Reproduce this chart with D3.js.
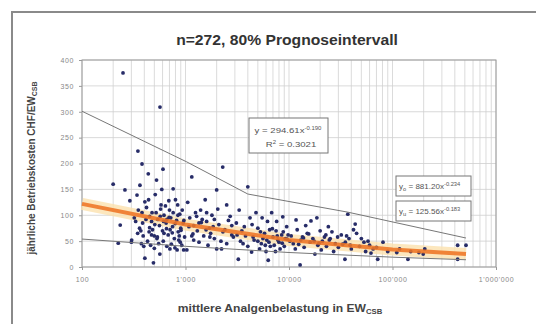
<!DOCTYPE html>
<html>
<head>
<meta charset="utf-8">
<script src="https://cdn.jsdelivr.net/npm/d3@7"></script>
<style>
  body { margin: 0; background: #fff; }
  svg { display: block; font-family: "Liberation Sans", Arial, sans-serif; }
</style>
</head>
<body>
<svg id="chart" width="536" height="324"></svg>
<script>
// data: plant size (EW) and yearly cost (CHF/EW)
var plantEW = [
  200,260,234,224,302,347,249,363,340,380,405,405,320,350,370,390,330,300,380,395,360,385,290,345,375,
  437,525,606,567,490,565,707,830,760,890,420,450,470,480,500,520,540,560,580,600,620,650,680,700,720,750,780,800,820,850,880,900,950,980,430,460,500,550,610,660,730,790,860,920,960,440,510,590,640,690,760,840,930,470,530,620,710,870,450,570,660,
  1030,1150,2000,2290,2500,2000,2230,1100,1200,1300,1400,1500,1600,1700,1800,1900,2100,2300,2600,2800,1050,1250,1350,1450,1550,1650,1750,1850,2200,2400,2700,2900,1150,1350,1600,2050,2500,1200,1900,2800,
  3240,4350,4000,6300,8700,3100,3500,3800,4200,4600,5000,5400,5800,6200,6600,7000,7500,8000,8500,9000,9500,3300,3600,4800,5200,5600,6000,6500,7200,7800,8200,9200,9800,4400,5500,6800,7600,4000,5000,6400,3400,7400,8800,5900,
  12800,11700,16300,18600,22700,29500,37000,43600,53000,81000,34700,72000,17800,10500,11000,12000,13000,14000,15000,16000,17000,19000,20000,21000,23000,25000,26000,28000,30000,32000,35000,38000,40000,45000,48000,55000,60000,65000,70000,90000,14500,24000,11500,13500,20500,27000,42000,50000,58000,62000,
  117000,205000,198000,141000,426000,426000,513000,150000,180000,110000,
  415,445,475,505,535,575,615,655,695,745,795,845,905,965,1080,1180,1280,1420,1580,1720,
  3150,3700,4500,5300,6100,6900,7700,8600,9600,10200,12400,13800,15500,17500,19500,22000,24500,33000,36000,39000
];
var plantCost = [
  160,149,81,46,52,224,375,158,139,199,126,17,95,110,70,60,88,48,105,40,75,85,128,65,45,
  180,168,189,309,8,25,35,33,151,48,115,98,88,72,60,105,92,80,120,70,100,85,62,110,95,78,55,130,90,68,102,75,85,58,50,42,36,45,50,40,44,37,52,42,33,130,140,150,118,128,105,120,110,62,55,65,72,60,76,98,92,
  33,174,149,193,120,35,35,95,80,70,110,60,88,75,100,55,82,68,90,62,125,105,48,92,130,42,65,78,50,72,98,58,60,85,105,112,45,52,92,80,
  15,29,155,13,97,85,70,60,95,52,75,45,65,88,40,58,70,48,62,40,78,110,45,105,35,55,30,72,42,52,35,55,62,82,95,105,88,40,50,48,50,30,68,42,
  4,91,89,95,62,58,102,83,48,48,15,15,25,60,45,72,52,38,65,48,55,42,70,50,40,55,68,45,38,62,48,55,35,65,40,30,42,35,38,30,80,78,35,58,33,30,72,55,50,27,
  35,35,25,15,15,42,42,30,28,28,
  92,68,105,82,58,112,88,74,96,66,84,100,71,90,78,64,98,86,72,58,
  62,78,58,68,52,74,60,46,54,50,44,56,64,50,46,58,52,44,60,42
];

// prognosis bounds and trend line
var upperEW = [100, 1030, 4000, 37000, 513000];
var upperCost = [301, 203, 141, 106, 56];
var lowerEW = [100, 1000, 10000, 100000, 513000];
var lowerCost = [54, 40, 28, 19, 14];
var trendEW = [100, 1000, 10000, 100000, 513000];
var trendCost = [122, 82, 52, 34, 25];

var xTicks = [100, 1000, 10000, 100000, 1000000];
var xTickLabels = ["100", "1'000", "10'000", "100'000", "1'000'000"];
var yTicks = [0, 50, 100, 150, 200, 250, 300, 350, 400];

var svg = d3.select("#chart");

// outer frame
svg.append("rect")
  .attr("x", 12).attr("y", 12)
  .attr("width", 540).attr("height", 330)
  .attr("fill", "none")
  .attr("stroke", "#8a8a8a")
  .attr("stroke-width", 2);

var x = d3.scaleLog().domain([100, 1000000]).range([82, 496]);
var y = d3.scaleLinear().domain([0, 400]).range([267, 60]);

// grid
var minor = [];
[100, 1000, 10000, 100000].forEach(function (d) {
  for (var k = 2; k <= 9; k++) minor.push(d * k);
});
svg.append("g").selectAll("line")
  .data(minor.concat(xTicks))
  .enter().append("line")
  .attr("x1", d => x(d)).attr("x2", d => x(d))
  .attr("y1", y(0)).attr("y2", y(400))
  .attr("stroke", "#d2d2d2").attr("stroke-width", 0.8);
svg.append("g").selectAll("line")
  .data(yTicks)
  .enter().append("line")
  .attr("x1", x(100)).attr("x2", x(1000000))
  .attr("y1", d => y(d)).attr("y2", d => y(d))
  .attr("stroke", "#cfcfcf").attr("stroke-width", 0.8);

svg.append("rect")
  .attr("x", x(100)).attr("y", y(400))
  .attr("width", x(1000000) - x(100)).attr("height", y(0) - y(400))
  .attr("fill", "none").attr("stroke", "#9a9a9a").attr("stroke-width", 1);

// axes
var xAxis = d3.axisBottom(x).tickValues(xTicks)
  .tickFormat((d, i) => xTickLabels[i]).tickSize(3).tickPadding(7);
var yAxis = d3.axisLeft(y).tickValues(yTicks).tickSize(3).tickPadding(5);

var gx = svg.append("g").attr("transform", "translate(0," + y(0) + ")").call(xAxis);
var gy = svg.append("g").attr("transform", "translate(" + x(100) + ",0)").call(yAxis);
[gx, gy].forEach(function (g) {
  g.attr("font-family", null);
  g.select(".domain").remove();
  g.selectAll("line").attr("stroke", "#999");
  g.selectAll("text").attr("fill", "#888").attr("font-size", 7).attr("letter-spacing", 0.6);
});

var line = d3.line().x(d => x(d[0])).y(d => y(d[1]));

// trend glow
var trend = d3.zip(trendEW, trendCost);
svg.append("path").attr("d", line(trend))
  .attr("fill", "none").attr("stroke", "#fbe1ae").attr("stroke-width", 12).attr("opacity", 0.8);

// points
svg.append("g").selectAll("circle")
  .data(d3.zip(plantEW, plantCost))
  .enter().append("circle")
  .attr("cx", d => x(d[0])).attr("cy", d => y(d[1]))
  .attr("r", 1.9)
  .attr("fill", "#272c68");

svg.append("path").attr("d", line(trend))
  .attr("fill", "none").attr("stroke", "#ee7526").attr("stroke-width", 4).attr("opacity", 0.88);

// prognosis bounds
[d3.zip(upperEW, upperCost), d3.zip(lowerEW, lowerCost)].forEach(function (b) {
  svg.append("path").attr("d", line(b))
    .attr("fill", "none").attr("stroke", "#777").attr("stroke-width", 1);
});

// stretched text helper (the scan is wider than the font)
function wideText(cx, cy, sx, rot) {
  return svg.append("g")
    .attr("transform", "translate(" + cx + "," + cy + ")" + (rot ? " rotate(" + rot + ")" : "") + " scale(" + sx + ",1)")
    .append("text");
}

// equation boxes
function eqBox(bx, by, bw, bh) {
  svg.append("rect").attr("x", bx).attr("y", by).attr("width", bw).attr("height", bh)
    .attr("fill", "#fff").attr("stroke", "#777").attr("stroke-width", 1);
}
eqBox(249, 118, 79, 35);
var t1 = wideText(288, 133, 1.2).attr("text-anchor", "middle").attr("font-size", 8).attr("fill", "#555");
t1.append("tspan").text("y = 294.61x");
t1.append("tspan").attr("dy", -3.5).attr("font-size", 5).text("-0.190");
var t2 = wideText(291, 147, 1.2).attr("text-anchor", "middle").attr("font-size", 8).attr("fill", "#555");
t2.append("tspan").text("R");
t2.append("tspan").attr("dy", -3.5).attr("font-size", 5).text("2");
t2.append("tspan").attr("dy", 3.5).text(" = 0.3021");

eqBox(396, 176, 75, 20);
var t3 = wideText(399, 189, 1.15).attr("font-size", 7).attr("fill", "#555");
t3.append("tspan").text("y");
t3.append("tspan").attr("dy", 2).attr("font-size", 5).text("o");
t3.append("tspan").attr("dy", -2).text(" = 881.20x");
t3.append("tspan").attr("dy", -3).attr("font-size", 5).text("-0.234");

eqBox(396, 201, 75, 20);
var t4 = wideText(399, 214, 1.15).attr("font-size", 7).attr("fill", "#555");
t4.append("tspan").text("y");
t4.append("tspan").attr("dy", 2).attr("font-size", 5).text("u");
t4.append("tspan").attr("dy", -2).text(" = 125.56x");
t4.append("tspan").attr("dy", -3).attr("font-size", 5).text("-0.183");

// titles
wideText(287, 45, 1.12).attr("text-anchor", "middle").attr("font-size", 14).attr("font-weight", "bold")
  .attr("fill", "#333").text("n=272, 80% Prognoseintervall");

var xl = wideText(280, 312, 1.1).attr("text-anchor", "middle").attr("font-size", 11)
  .attr("font-weight", "bold").attr("fill", "#444");
xl.append("tspan").text("mittlere Analgenbelastung in EW");
xl.append("tspan").attr("dy", 2).attr("font-size", 7).text("CSB");

var yl = wideText(35, 168, 1.0, -90).attr("text-anchor", "middle").attr("font-size", 10)
  .attr("font-weight", "bold").attr("fill", "#444");
yl.append("tspan").text("jährliche Betriebskosten CHF/EW");
yl.append("tspan").attr("dy", 2).attr("font-size", 7).text("CSB");
</script>
</body>
</html>
